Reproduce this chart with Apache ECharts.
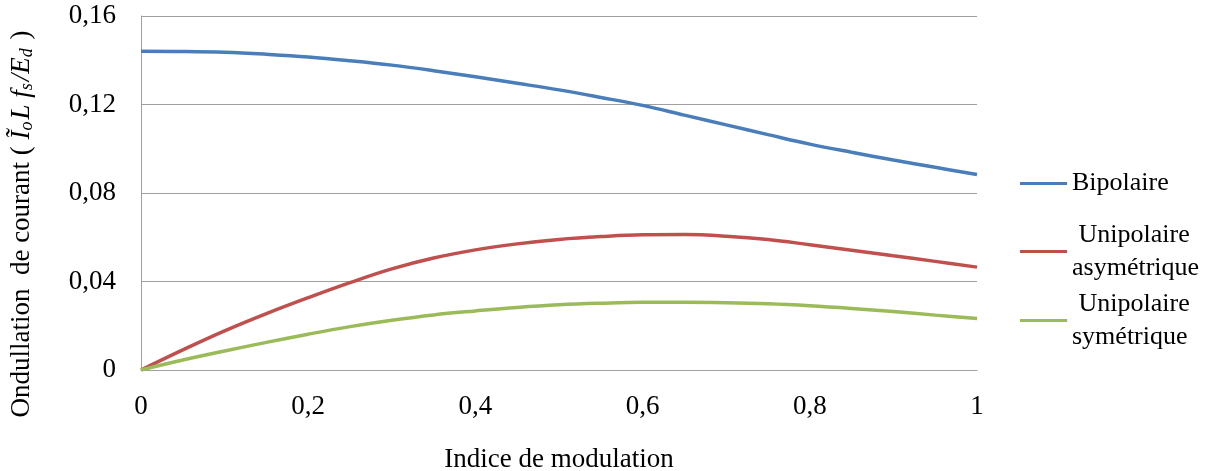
<!DOCTYPE html>
<html>
<head>
<meta charset="utf-8">
<script src="https://cdn.jsdelivr.net/npm/echarts@6/dist/echarts.min.js"></script>
<style>
  html, body { margin: 0; padding: 0; background: #fff; }
  #chart { width: 1208px; height: 471px; }
</style>
</head>
<body>
<div id="chart"></div>
<script>
// indice de modulation (pas de 0,05)
const modIndex = [0, 0.05, 0.1, 0.15, 0.2, 0.25, 0.3, 0.35, 0.4, 0.45, 0.5,
                  0.55, 0.6, 0.65, 0.7, 0.75, 0.8, 0.85, 0.9, 0.95, 1];
// ondulation de courant
const bipolaire = [0.1441, 0.1440, 0.1436, 0.1427, 0.1415, 0.1398, 0.1378, 0.1353, 0.1325, 0.1296, 0.1266,
                   0.1232, 0.1196, 0.1152, 0.1108, 0.1064, 0.1021, 0.0984, 0.0949, 0.0916, 0.0884];
const uniAsym = [0, 0.0091, 0.0177, 0.0255, 0.0327, 0.0395, 0.0457, 0.0506, 0.0543, 0.0570, 0.0590,
                 0.0603, 0.0611, 0.0612, 0.0605, 0.0590, 0.0566, 0.0541, 0.0516, 0.0491, 0.0465];
const uniSym = [0, 0.0045, 0.0086, 0.0125, 0.0162, 0.0196, 0.0225, 0.0249, 0.0267, 0.0283, 0.0295,
                0.0302, 0.0306, 0.0306, 0.0304, 0.0299, 0.0290, 0.0278, 0.0264, 0.0248, 0.0233];

const seriesNames = ['Bipolaire', 'Unipolaire asymétrique', 'Unipolaire symétrique'];
const legendLabels = ['Bipolaire', ' Unipolaire\nasymétrique', ' Unipolaire\nsymétrique'];
const colors = ['#4a7ebb', '#c0504d', '#9bbb59'];

const FONT = 'Liberation Serif';
const LH = 33;

const chart = echarts.init(document.getElementById('chart'));

const toPairs = arr => arr.map((v, i) => [modIndex[i], v]);

function makeLegend(i, top) {
  return {
    show: true,
    left: 1020,
    top: top,
    padding: 0,
    itemWidth: 47,
    itemHeight: 14,
    itemGap: 0,
    icon: 'path://M0,5.5 L47,5.5 L47,8.5 L0,8.5 Z',
    data: [{
      name: seriesNames[i],
      textStyle: i === 0 ? {} : { padding: [LH, 0, 0, 0] }
    }],
    formatter: () => legendLabels[i],
    textStyle: { fontFamily: FONT, fontSize: 26, color: '#000', lineHeight: LH },
    selectedMode: false
  };
}

const option = {
  backgroundColor: '#fff',
  animation: false,
  color: colors,
  grid: { left: 141, right: 231, top: 16, bottom: 101, outerBoundsMode: 'none' },
  legend: [makeLegend(0, 167), makeLegend(1, 202), makeLegend(2, 271)],
  xAxis: {
    type: 'value',
    min: 0,
    max: 1,
    interval: 0.2,
    name: 'Indice de modulation',
    nameLocation: 'middle',
    nameGap: 76,
    nameTextStyle: { fontFamily: FONT, fontSize: 27, color: '#000' },
    axisLine: { show: true, lineStyle: { color: '#a0a0a0', width: 1 } },
    axisTick: { show: false },
    splitLine: { show: false },
    axisLabel: {
      fontFamily: FONT, fontSize: 27, color: '#000', margin: 23,
      formatter: v => String(Math.round(v * 10) / 10).replace('.', ',')
    }
  },
  yAxis: {
    type: 'value',
    min: 0,
    max: 0.16,
    interval: 0.04,
    name: '{t|Ondullation  de courant ( }{i|Ĩ}{s|o}{i|L f}{s|s}{i|/E}{s|d}{t| )}',
    nameLocation: 'middle',
    nameGap: 105,
    nameRotate: 90,
    nameTextStyle: {
      fontFamily: FONT, fontSize: 27, color: '#000',
      padding: [0, 62, 0, 0],
      rich: {
        t: { fontFamily: FONT, fontSize: 27, color: '#000' },
        i: { fontFamily: FONT, fontSize: 27, fontStyle: 'italic', color: '#000' },
        s: { fontFamily: FONT, fontSize: 18, fontStyle: 'italic', color: '#000', padding: [11, 2, 0, 0] }
      }
    },
    axisLine: { show: true, lineStyle: { color: '#a0a0a0', width: 1 } },
    axisTick: { show: false },
    splitLine: { show: true, lineStyle: { color: '#a0a0a0', width: 1 } },
    axisLabel: {
      fontFamily: FONT, fontSize: 27, color: '#000', margin: 25,
      formatter: v => v === 0 ? '0' : v.toFixed(2).replace('.', ',')
    }
  },
  series: [
    { name: seriesNames[0], type: 'line', data: toPairs(bipolaire) },
    { name: seriesNames[1], type: 'line', data: toPairs(uniAsym) },
    { name: seriesNames[2], type: 'line', data: toPairs(uniSym) }
  ].map((s, i) => Object.assign(s, {
    smooth: 0.4,
    showSymbol: false,
    symbol: 'none',
    lineStyle: { width: 3.5, color: colors[i] },
    itemStyle: { color: colors[i] }
  }))
};

chart.setOption(option);
</script>
</body>
</html>
